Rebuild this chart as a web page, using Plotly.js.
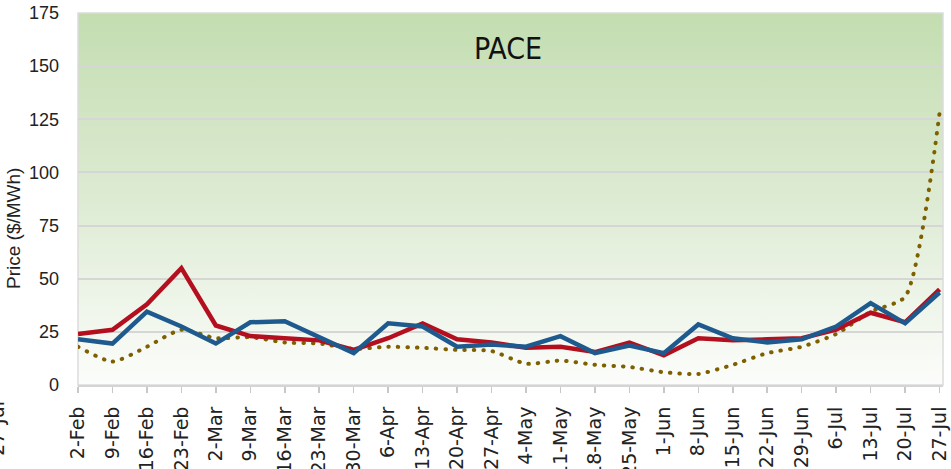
<!DOCTYPE html>
<html>
<head>
<meta charset="utf-8">
<script src="https://cdn.plot.ly/plotly-3.0.1.min.js"></script>
<style>
  html, body { margin: 0; padding: 0; background: #ffffff; }
  #chart { width: 951px; height: 469px; }
  #chart .scatterlayer .trace:first-of-type path.js-line { stroke-linecap: round; }
</style>
</head>
<body>
<div id="chart"></div>
<script>
const weeks = ["2-Feb","9-Feb","16-Feb","23-Feb","2-Mar","9-Mar","16-Mar","23-Mar","30-Mar","6-Apr","13-Apr","20-Apr","27-Apr","4-May","11-May","18-May","25-May","1-Jun","8-Jun","15-Jun","22-Jun","29-Jun","6-Jul","13-Jul","20-Jul","27-Jul"];
const redSeries = [24,26,38,55,28,23,22,21,16.5,22,29,21.5,20,17.5,18,15.5,20,14,22,21,21.5,22,26,34,29.5,45];
const blueSeries = [21.5,19.5,34.5,27.5,19.5,29.5,30,22.5,15,29,27.5,18,19,18,23,15,18.5,15,28.5,22,20,21.5,27.5,38.5,29,43.5];
const dottedSeries = [18,11,18,26,22,22.5,20,19.5,17,18,17.5,16.5,16,10,11.5,9.5,8.5,6,5.2,9.5,15,18,24,34.5,41.5,128];
const yTicks = [0,25,50,75,100,125,150,175];
const chartTitle = "PACE";
const yTitle = "Price ($/MWh)";

const xs = weeks.map((_, i) => i);

const gradSvg = '<svg xmlns="http://www.w3.org/2000/svg" width="100" height="100" viewBox="0 0 100 100" preserveAspectRatio="none">' +
  '<defs><linearGradient id="g" x1="0" y1="0" x2="0" y2="1">' +
  '<stop offset="0" stop-color="#C3DDB0"/>' +
  '<stop offset="0.5" stop-color="#DDEBD3"/>' +
  '<stop offset="1" stop-color="#FCFDFB"/>' +
  '</linearGradient></defs><rect x="0" y="0" width="100" height="100" fill="url(#g)"/></svg>';
const gradUri = 'data:image/svg+xml;charset=utf-8,' + encodeURIComponent(gradSvg);

const traces = [
  {
    x: xs, y: dottedSeries, type: 'scatter', mode: 'lines', name: 'dotted',
    line: { color: '#7F6000', width: 4, dash: '0.5px,9px', shape: 'spline', smoothing: 0.6 },
    hoverinfo: 'skip'
  },
  {
    x: xs, y: redSeries, type: 'scatter', mode: 'lines', name: 'red',
    line: { color: '#B40F1E', width: 4.5 },
    hoverinfo: 'skip'
  },
  {
    x: xs, y: blueSeries, type: 'scatter', mode: 'lines', name: 'blue',
    line: { color: '#1F5A8E', width: 4.5 },
    hoverinfo: 'skip'
  }
];

const layout = {
  width: 951, height: 469,
  margin: { l: 78, r: 8, t: 13, b: 84 },
  paper_bgcolor: '#ffffff',
  plot_bgcolor: 'rgba(0,0,0,0)',
  showlegend: false,
  title: {
    text: chartTitle,
    font: { family: 'DejaVu Sans Condensed, Liberation Sans Narrow, sans-serif', size: 30, color: '#111111' },
    x: 508 / 951, xanchor: 'center', xref: 'container',
    y: 1 - 48 / 469, yanchor: 'middle', yref: 'container'
  },
  xaxis: {
    range: [0, 25.1],
    tickmode: 'array',
    tickvals: xs,
    ticktext: weeks,
    tickangle: -90,
    ticks: 'outside', ticklen: 6, tickwidth: 1.5, tickcolor: '#C8C8C8',
    ticklabelstandoff: 6,
    tickfont: { family: 'DejaVu Sans, sans-serif', size: 19, color: '#222222' },
    showgrid: false, zeroline: false,
    showline: true, linecolor: '#D4D4D4', linewidth: 2,
    fixedrange: true
  },
  yaxis: {
    range: [0, 175],
    tickmode: 'array',
    tickvals: yTicks,
    ticks: '', ticklabelstandoff: 18,
    tickfont: { family: 'Liberation Sans, Arial, sans-serif', size: 18, color: '#222222' },
    showgrid: true, gridcolor: '#D6D6D6', gridwidth: 2,
    zeroline: false, showline: false,
    fixedrange: true
  },
  images: [{
    source: gradUri, xref: 'paper', yref: 'paper',
    x: 0, y: 1, sizex: 1, sizey: 1, xanchor: 'left', yanchor: 'top',
    sizing: 'stretch', layer: 'below'
  }],
  shapes: [{
    type: 'rect', xref: 'paper', yref: 'paper', x0: 0, x1: 1, y0: 0, y1: 1,
    line: { color: '#DCDCDC', width: 1.5 }, fillcolor: 'rgba(0,0,0,0)', layer: 'below'
  }],
  annotations: [
    {
      text: yTitle, xref: 'paper', yref: 'paper',
      x: (14 - 78) / 865, y: (385 - 229) / 372, textangle: -90, showarrow: false,
      font: { family: 'Liberation Sans, Arial, sans-serif', size: 19, color: '#222222' },
      xanchor: 'center', yanchor: 'middle'
    },
    {
      text: weeks[weeks.length - 1], xref: 'paper', yref: 'paper',
      x: (-3 - 78) / 865, y: (385 - 429) / 372, textangle: -90, showarrow: false,
      font: { family: 'DejaVu Sans, sans-serif', size: 19, color: '#222222' },
      xanchor: 'center', yanchor: 'middle'
    }
  ]
};

Plotly.newPlot('chart', traces, layout, { staticPlot: true, displayModeBar: false });
</script>
</body>
</html>
